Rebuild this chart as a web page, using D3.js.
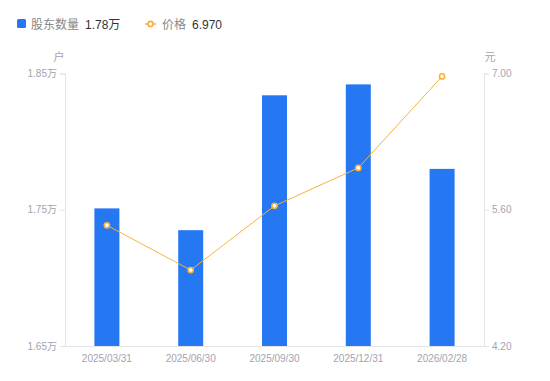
<!DOCTYPE html>
<html><head><meta charset="utf-8">
<script src="https://cdn.jsdelivr.net/npm/d3@7/dist/d3.min.js"></script>
<style>
body{margin:0;background:#fff;}
text{font-family:"Liberation Sans","Noto Sans CJK SC",Arial,sans-serif;}
</style></head>
<body><svg id="c" width="550" height="381"></svg>
<script>
const categories = ["2025/03/31","2025/06/30","2025/09/30","2025/12/31","2026/02/28"];
const holders = [1.751, 1.735, 1.834, 1.842, 1.78];   // 万户
const prices = [5.44, 4.98, 5.64, 6.03, 6.97];        // 元
const leftTicks = [1.65, 1.75, 1.85];
const rightTicks = [4.20, 5.60, 7.00];

const svg = d3.select("#c");
const m = {l:65, r:484, t:73.5, b:346};
const xc = d3.scaleBand().domain(categories).range([m.l, m.r]);
const yL = d3.scaleLinear().domain([1.65,1.85]).range([m.b, m.t]);
const yR = d3.scaleLinear().domain([4.2,7.0]).range([m.b, m.t]);
const axisCol = "#e3e3e8", labCol = "#a3a3b0";

// axes
const gL = svg.append("g").attr("transform",`translate(${m.l},0)`)
  .call(d3.axisLeft(yL).tickValues(leftTicks).tickSize(5).tickPadding(3).tickFormat(d=>d3.format(".2f")(d)+"万"));
const gR = svg.append("g").attr("transform",`translate(${m.r},0)`)
  .call(d3.axisRight(yR).tickValues(rightTicks).tickSize(5).tickPadding(3).tickFormat(d3.format(".2f")));
const gB = svg.append("g").attr("transform",`translate(0,${m.b})`)
  .call(d3.axisBottom(xc).tickSize(0).tickPadding(8.5));
[gL,gR,gB].forEach(g=>{
  g.selectAll("path.domain").attr("stroke",axisCol);
  g.selectAll(".tick line").attr("stroke",axisCol);
  g.selectAll(".tick text").attr("fill",labCol).attr("font-size",10)
   .attr("font-family",'"Liberation Sans","Noto Sans CJK SC",Arial,sans-serif');
});
gB.selectAll("path.domain").attr("d",`M${m.l},0.5H${m.r}`);

svg.append("text").attr("x",59).attr("y",61).attr("text-anchor","middle").attr("font-size",11).attr("fill",labCol).text("户");
svg.append("text").attr("x",490).attr("y",61).attr("text-anchor","middle").attr("font-size",11).attr("fill",labCol).text("元");

// bars
svg.append("g").selectAll("rect").data(categories).join("rect")
  .attr("x",d=>xc(d)+xc.bandwidth()/2-12.5).attr("width",25)
  .attr("y",(d,i)=>yL(holders[i])).attr("height",(d,i)=>m.b-yL(holders[i]))
  .attr("fill","#2577f2");

// line
const lineCol = "#f8b23c";
const line = d3.line().x((d,i)=>xc(categories[i])+xc.bandwidth()/2).y(d=>yR(d));
svg.append("path").datum(prices).attr("d",line).attr("fill","none").attr("stroke",lineCol).attr("stroke-width",1);
svg.append("g").selectAll("circle").data(prices).join("circle")
  .attr("cx",(d,i)=>xc(categories[i])+xc.bandwidth()/2).attr("cy",d=>yR(d))
  .attr("r",2.6).attr("fill","#fff").attr("stroke",lineCol).attr("stroke-width",1.6);

// legend
const lg = svg.append("g");
lg.append("rect").attr("x",17).attr("y",19).attr("width",9).attr("height",9).attr("rx",1.5).attr("fill","#2577f2");
lg.append("text").attr("x",31).attr("y",28.5).attr("font-size",12).attr("fill","#888").text("股东数量");
lg.append("text").attr("x",85).attr("y",28.5).attr("font-size",12).attr("fill","#333").text("1.78万");
lg.append("line").attr("x1",145).attr("x2",156).attr("y1",24).attr("y2",24).attr("stroke",lineCol).attr("stroke-width",1.5);
lg.append("circle").attr("cx",150.5).attr("cy",24).attr("r",2.6).attr("fill","#fff").attr("stroke",lineCol).attr("stroke-width",1.6);
lg.append("text").attr("x",162).attr("y",28.5).attr("font-size",12).attr("fill","#888").text("价格");
lg.append("text").attr("x",192).attr("y",28.5).attr("font-size",12).attr("fill","#333").text("6.970");
</script></body></html>
